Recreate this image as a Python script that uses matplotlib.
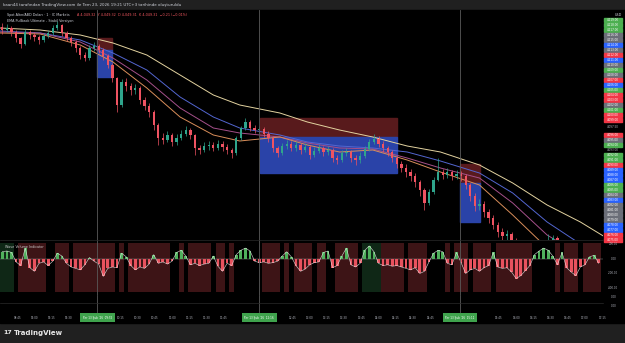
import matplotlib.pyplot as plt
from matplotlib.patches import Rectangle
from matplotlib.transforms import blended_transform_factory

# --- data (4-minute buckets starting 08:30) ---
close = [4117.0, 4117.4, 4116.6, 4115.4, 4114.2, 4116.6, 4116.0, 4115.6, 4115.0, 4115.8,
         4116.4, 4117.4, 4118.0, 4116.4, 4115.4, 4114.6, 4113.4, 4112.0, 4111.4, 4113.4,
         4113.8, 4113.0, 4111.8, 4110.0, 4107.4, 4102.0, 4106.6, 4105.8, 4105.0, 4105.4,
         4103.0, 4101.8, 4100.6, 4098.0, 4095.4, 4095.0, 4096.0, 4094.6, 4095.4, 4096.2,
         4097.0, 4096.0, 4093.4, 4093.0, 4093.8, 4094.0, 4093.4, 4094.2, 4093.6, 4093.0,
         4092.4, 4095.4, 4097.4, 4098.6, 4097.4, 4097.0, 4097.2, 4096.2, 4095.4, 4093.4,
         4092.4, 4093.8, 4094.2, 4093.4, 4094.0, 4093.0, 4093.6, 4092.0, 4092.8, 4093.4,
         4092.6, 4093.0, 4091.4, 4091.0, 4092.4, 4092.6, 4091.4, 4091.0, 4091.8, 4093.2,
         4094.6, 4095.2, 4094.2, 4093.4, 4092.6, 4091.4, 4090.2, 4089.4, 4088.6, 4087.8,
         4086.6, 4085.0, 4082.4, 4084.6, 4087.0, 4088.6, 4088.0, 4088.6, 4087.8, 4088.2,
         4087.8, 4086.0, 4083.8, 4081.8, 4082.2, 4080.6, 4079.4, 4078.0, 4076.6, 4075.8,
         4076.2, 4075.0, 4073.8, 4072.6, 4071.8, 4071.0, 4071.4, 4072.0, 4073.0, 4074.6,
         4075.4, 4074.0, 4072.6, 4071.8, 4071.4, 4070.6, 4071.0, 4071.8, 4072.6, 4073.4,
         4073.8]
first_open = 4117.6
high = [4118.4, 4118.2, 4117.8, 4117.0, 4115.6, 4117.2, 4117.0, 4116.6, 4116.0, 4116.4,
        4117.0, 4118.0, 4118.8, 4118.2, 4116.8, 4115.8, 4115.0, 4113.8, 4112.6, 4114.0,
        4114.6, 4114.2, 4113.4, 4112.2, 4110.4, 4107.6, 4107.2, 4107.4, 4106.4, 4106.2,
        4105.8, 4103.6, 4102.4, 4101.0, 4098.4, 4096.4, 4096.8, 4096.4, 4096.2, 4097.0,
        4097.8, 4097.4, 4096.2, 4094.0, 4094.6, 4094.8, 4094.6, 4095.0, 4094.8, 4094.2,
        4093.4, 4095.8, 4097.8, 4099.4, 4099.0, 4098.0, 4097.8, 4097.6, 4096.8, 4095.8,
        4093.8, 4094.4, 4095.0, 4094.8, 4094.8, 4094.4, 4094.4, 4094.0, 4093.6, 4094.2,
        4093.8, 4093.8, 4093.4, 4092.0, 4093.0, 4093.4, 4093.0, 4092.0, 4092.6, 4093.8,
        4095.2, 4096.2, 4095.8, 4094.8, 4093.8, 4093.0, 4091.8, 4090.8, 4090.2, 4089.2,
        4088.4, 4087.0, 4085.4, 4085.2, 4087.6, 4091.4, 4089.2, 4089.4, 4089.0, 4089.0,
        4088.8, 4088.2, 4086.4, 4084.4, 4083.2, 4082.8, 4081.2, 4080.0, 4078.6, 4077.4,
        4077.0, 4076.6, 4075.4, 4074.2, 4073.2, 4072.4, 4072.2, 4072.8, 4073.6, 4076.2,
        4076.0, 4075.8, 4074.4, 4073.2, 4072.4, 4072.0, 4071.8, 4072.4, 4073.2, 4074.0,
        4074.4]
low = [4116.2, 4116.6, 4115.8, 4114.6, 4113.4, 4114.0, 4115.2, 4114.8, 4114.2, 4114.6,
       4115.4, 4116.0, 4117.0, 4115.8, 4114.8, 4113.8, 4112.6, 4111.2, 4110.8, 4111.0,
       4112.8, 4112.4, 4111.0, 4109.4, 4106.6, 4100.6, 4101.6, 4104.8, 4104.0, 4104.2,
       4102.2, 4101.0, 4099.6, 4097.0, 4094.0, 4094.2, 4094.6, 4093.8, 4094.0, 4095.0,
       4095.8, 4095.2, 4092.0, 4092.2, 4092.6, 4093.0, 4092.8, 4093.0, 4092.8, 4092.2,
       4091.4, 4092.0, 4095.0, 4097.0, 4096.8, 4096.4, 4096.4, 4095.6, 4094.6, 4092.6,
       4091.6, 4092.0, 4093.2, 4092.8, 4092.8, 4092.2, 4092.6, 4091.2, 4091.6, 4092.4,
       4091.8, 4092.0, 4090.6, 4090.2, 4090.6, 4091.8, 4090.6, 4090.0, 4090.4, 4091.4,
       4092.8, 4094.2, 4093.6, 4092.6, 4091.8, 4090.6, 4089.4, 4088.6, 4087.6, 4086.8,
       4085.6, 4083.8, 4081.0, 4082.0, 4084.2, 4086.8, 4087.2, 4087.4, 4087.0, 4087.2,
       4086.8, 4085.2, 4082.8, 4080.8, 4081.0, 4079.6, 4078.4, 4077.2, 4075.6, 4074.8,
       4075.0, 4074.0, 4073.0, 4071.8, 4071.0, 4070.2, 4070.6, 4071.0, 4071.6, 4072.8,
       4074.0, 4073.2, 4071.8, 4071.0, 4070.6, 4069.8, 4070.0, 4070.6, 4071.2, 4072.0,
       4073.0]

# moving averages, knots in minutes after 08:30
ma_min = [0, 35, 70, 98.5, 128, 157, 186, 209, 244, 268, 296, 325, 355, 384, 418, 447, 477, 506, 526]
ma_yellow = [4117.4, 4117.0, 4116.0, 4114.4, 4112.0, 4108.0, 4104.0, 4102.0, 4100.4, 4098.6,
             4097.0, 4095.6, 4093.8, 4092.6, 4090.0, 4086.4, 4082.0, 4078.6, 4075.8]
ma_blue = [4116.8, 4116.4, 4115.0, 4112.4, 4109.0, 4103.6, 4099.6, 4097.4, 4096.0, 4094.6,
           4093.8, 4093.4, 4092.6, 4090.8, 4088.4, 4084.4, 4078.6, 4074.2, 4071.4]
ma_purple = [4116.6, 4116.4, 4114.6, 4111.4, 4107.0, 4101.4, 4097.4, 4096.4, 4095.6, 4094.4,
             4093.4, 4093.2, 4091.4, 4089.4, 4087.4, 4082.4, 4076.0, 4072.0, 4070.0]
ma_orange = [4116.4, 4116.2, 4114.0, 4110.6, 4105.4, 4099.6, 4096.0, 4094.8, 4095.6, 4094.0,
             4092.6, 4093.0, 4091.0, 4088.6, 4086.0, 4080.0, 4073.4, 4070.6, 4069.4]

# zones: start/end minute, red top, split, blue bottom
zone_start = [84.5, 226.5, 401]
zone_end = [97.5, 346, 418.5]
zone_top = [4115.4, 4099.4, 4090.2]
zone_mid = [4113.0, 4095.6, 4086.4]
zone_bottom = [4107.6, 4088.4, 4078.6]

session_marks = ["09:55", "12:16", "15:11"]
mark_labels = ["Per 13 Şub '26  09:55", "Per 13 Şub '26  12:16", "Per 13 Şub '26  15:11"]

time_ticks = ["08:45", "09:00", "09:15", "09:30", "10:15", "10:30", "10:45", "11:00", "11:15",
              "11:30", "11:45", "12:45", "13:00", "13:15", "13:30", "13:45", "14:00", "14:15",
              "14:30", "14:45", "15:45", "16:00", "16:15", "16:30", "16:45", "17:00", "17:15"]

wave = [100, 110, 90, -40, -90, 150, -120, -170, -60, -40,
        -90, -30, 80, 40, -60, -110, -130, -150, -80, 20,
        -30, -70, -240, -130, -110, -120, 80, 30, -90, -150,
        -110, -130, -70, 60, -60, -40, -70, -30, 90, 120,
        40, -80, -60, -90, -70, -60, 40, -100, -170, -60,
        -90, 60, 120, 150, 110, -30, -50, -40, -60, -50,
        -30, 40, 100, 30, -90, -170, -140, -80, -50, -40,
        90, 110, -120, -90, 40, 150, -80, -110, -60, 120,
        180, 100, -60, -90, -80, -100, -90, -110, -130, -150,
        -120, -200, -170, -40, 80, 120, 100, -60, -80, 90,
        -50, -200, -150, -130, -170, -120, -90, 90, -110, -130,
        -120, -180, -270, -230, -160, -90, 60, 110, 150, 120,
        40, -80, 90, -120, -180, -230, -110, -80, 30, 50,
        -60]
wave_bg = ("gggkrrrrrrkkrrrkrrrrrrrrrkrkrrrrrrrrrkkrkrrrrrkrrkr"
           "kkkkkkrrrrkrkrrrrkrrkkrrrrrkggggrrrrrkrrrrkkkkrkrrrk"
           "rrrrkrrrrrrrrkkkkkrkrrrkrrrr")

axis_top = [4119, 4118, 4117, 4116, 4115, 4114, 4113, 4112, 4111, 4110, 4109,
            4108, 4107, 4106, 4105, 4104, 4103, 4102, 4101, 4100, 4099,
            4096, 4095, 4094,
            4092, 4091, 4090, 4089, 4088, 4087, 4086, 4085, 4084, 4083, 4082,
            4081, 4080, 4079, 4078, 4077, 4076, 4075]
axis_top_col = list("gggssbsrbsgsrbgrrsgrr") + list("rsg") + list("ggrbbbggsbssssbbrr")
axis_plain = [4097.5, 4093.0]
wave_ticks = [200, 0, -200, -400]

GREEN, RED = '#2fa58c', '#ef5362'
BOXCOL = {'g': '#4caf50', 's': '#6b6e78', 'b': '#2962ff', 'r': '#f23645'}
BGCOL = {'r': '#3d1416', 'k': '#000000', 'g': '#0f2716'}

W, H = 625, 343
PX_PER_MIN = 1.147
XMAX = 603 / PX_PER_MIN


def to_min(hhmm):
    h, m = map(int, hhmm.split(':'))
    return (h - 8) * 60 + m - 30


fig = plt.figure(figsize=(W / 100, H / 100), dpi=100, facecolor='#202020')
fig.patches.append(Rectangle((0, 20 / H), 1, 313 / H, transform=fig.transFigure,
                             color='black', zorder=-5))

ax = fig.add_axes([0, 1 - 240 / H, 603 / W, 230 / H], facecolor='black')
axw = fig.add_axes([0, 1 - 295 / H, 603 / W, 55 / H], facecolor='black')
axt = fig.add_axes([0, 20 / H, 603 / W, 28 / H], facecolor='black')
for a in (ax, axw, axt):
    a.set_xlim(0, XMAX)
    a.set_xticks([])
    a.set_yticks([])
    a.set_zorder(2)
    for s in a.spines.values():
        s.set_visible(False)
axt.set_ylim(0, 1)

ax.set_ylim(4075, 4121)

# zones
for s, e, t, m, b in zip(zone_start, zone_end, zone_top, zone_mid, zone_bottom):
    ax.add_patch(Rectangle((s, m), e - s, t - m, color='#581a1c', zorder=1))
    ax.add_patch(Rectangle((s, b), e - s, m - b, color='#2a43a8', zorder=1))

# moving averages
ax.plot(ma_min, ma_yellow, color='#e3d3a0', lw=0.7, zorder=2)
ax.plot(ma_min, ma_blue, color='#5366d0', lw=0.7, zorder=2)
ax.plot(ma_min, ma_purple, color='#a5508a', lw=0.7, zorder=2)
ax.plot(ma_min, ma_orange, color='#d98e5a', lw=0.7, zorder=2)

# candles
opens = [first_open] + close[:-1]
xs = [4 * i + 2 for i in range(len(close))]
cols = [GREEN if c >= o else RED for o, c in zip(opens, close)]
ax.vlines(xs, low, high, colors=cols, lw=0.5, zorder=3)
ax.bar(xs, [max(abs(c - o), 0.2) for o, c in zip(opens, close)],
       bottom=[min(o, c) for o, c in zip(opens, close)], width=2.0, color=cols,
       linewidth=0, zorder=3)

# session lines
for t in session_marks:
    for a in (ax, axw):
        a.axvline(to_min(t), color='#5a5a5a', lw=0.6, zorder=4)
    axt.plot([to_min(t)] * 2, [0.4, 1], color='#5a5a5a', lw=0.6)

# legend texts
ax.text(7 / 603, 0.978, "Spot Altın/ABD Doları · 1 · IC Markets", transform=ax.transAxes,
        fontsize=2.4, color='#d1d4dc', va='center')
ax.text(77 / 603, 0.978, "A 4,049.32  Y 4,049.32  D 4,049.31  K 4,049.31  −0.21 (−0.01%)",
        transform=ax.transAxes, fontsize=2.4, color='#f0575f', va='center')
ax.text(7 / 603, 0.953, "EMA Pullback Ultimate - Stabil Versiyon", transform=ax.transAxes,
        fontsize=2.4, color='#d1d4dc', va='center')

# price axis labels
tr = blended_transform_factory(ax.transAxes, ax.transData)
ax.text(1.025, 4120.0, "USD", transform=tr, fontsize=2.4, color='#d1d4dc',
        ha='center', va='center', clip_on=False)
for p, c in zip(axis_top, axis_top_col):
    ax.add_patch(Rectangle((1.002, p - 0.48), 0.03, 0.96, transform=tr, color=BOXCOL[c],
                           clip_on=False, zorder=5))
    ax.text(1.017, p, f"{p:,.2f}", transform=tr, fontsize=2.0, color='white',
            ha='center', va='center', clip_on=False, zorder=6)
for p in axis_plain:
    ax.text(1.017, p, f"{p:,.2f}", transform=tr, fontsize=2.0, color='#b2b5be',
            ha='center', va='center', clip_on=False)

# wave volume pane
axw.set_ylim(-497, 262)
for i, k in enumerate(wave_bg):
    if k != 'k':
        axw.axvspan(4 * i, 4 * i + 4, ymin=0.055, ymax=0.945, color=BGCOL[k], lw=0, zorder=0)
axw.bar(xs, wave, width=2.4, color=['#4fb05c' if v > 0 else '#e8525e' for v in wave],
        linewidth=0, zorder=2)
axw.plot(xs, wave, color='#e6e6e6', lw=0.45, alpha=0.85, zorder=3)
axw.axhline(0, color='#9a9a9a', lw=0.3, zorder=1)
axw.text(5 / 603, 0.87, "Wave Volume Indicator", transform=axw.transAxes, fontsize=2.4,
         color='#c8c8c8', va='center')
trw = blended_transform_factory(axw.transAxes, axw.transData)
for v in wave_ticks:
    axw.text(1.017, v, f"{v:.2f}", transform=trw, fontsize=2.0, color='#b2b5be',
             ha='center', va='center', clip_on=False)
fig.text(614 / W, 1 - 297 / H, "0.00", fontsize=2.0, color='#b2b5be', ha='center', va='center')
fig.text(614 / W, 1 - 306 / H, "0.00", fontsize=2.0, color='#b2b5be', ha='center', va='center')

# separators
fig.add_artist(plt.Line2D([0, 603 / W], [1 - 240 / H] * 2, color='#2a2a2a', lw=0.5, zorder=3))
fig.add_artist(plt.Line2D([0, 603 / W], [1 - 303 / H] * 2, color='#2a2a2a', lw=0.5, zorder=3))

# time axis
for t in time_ticks:
    axt.text(to_min(t), 0.18, t, fontsize=2.0, color='#b2b5be', ha='center', va='center')
for t, lab in zip(session_marks, mark_labels):
    axt.text(to_min(t), 0.18, lab, fontsize=2.0, color='white', ha='center', va='center',
             bbox=dict(boxstyle='square,pad=0.9', facecolor='#3fa34d', edgecolor='none'))

# header / footer
fig.text(3 / W, 1 - 5 / H, "kaan44 tarafından TradingView.com ile Tem 23, 2026 19:21 UTC+3 "
         "tarihinde oluşturuldu", fontsize=2.9, color='#d1d4dc', va='center')
fig.text(3 / W, 1 - 333 / H, "17", fontsize=4.6, weight='heavy', color='#e8e8e8', va='center')
fig.text(13.5 / W, 1 - 333 / H, "TradingView", fontsize=5.0, weight='semibold', color='#e8e8e8',
         va='center')

fig.savefig('out.png', dpi=100, facecolor=fig.get_facecolor())
